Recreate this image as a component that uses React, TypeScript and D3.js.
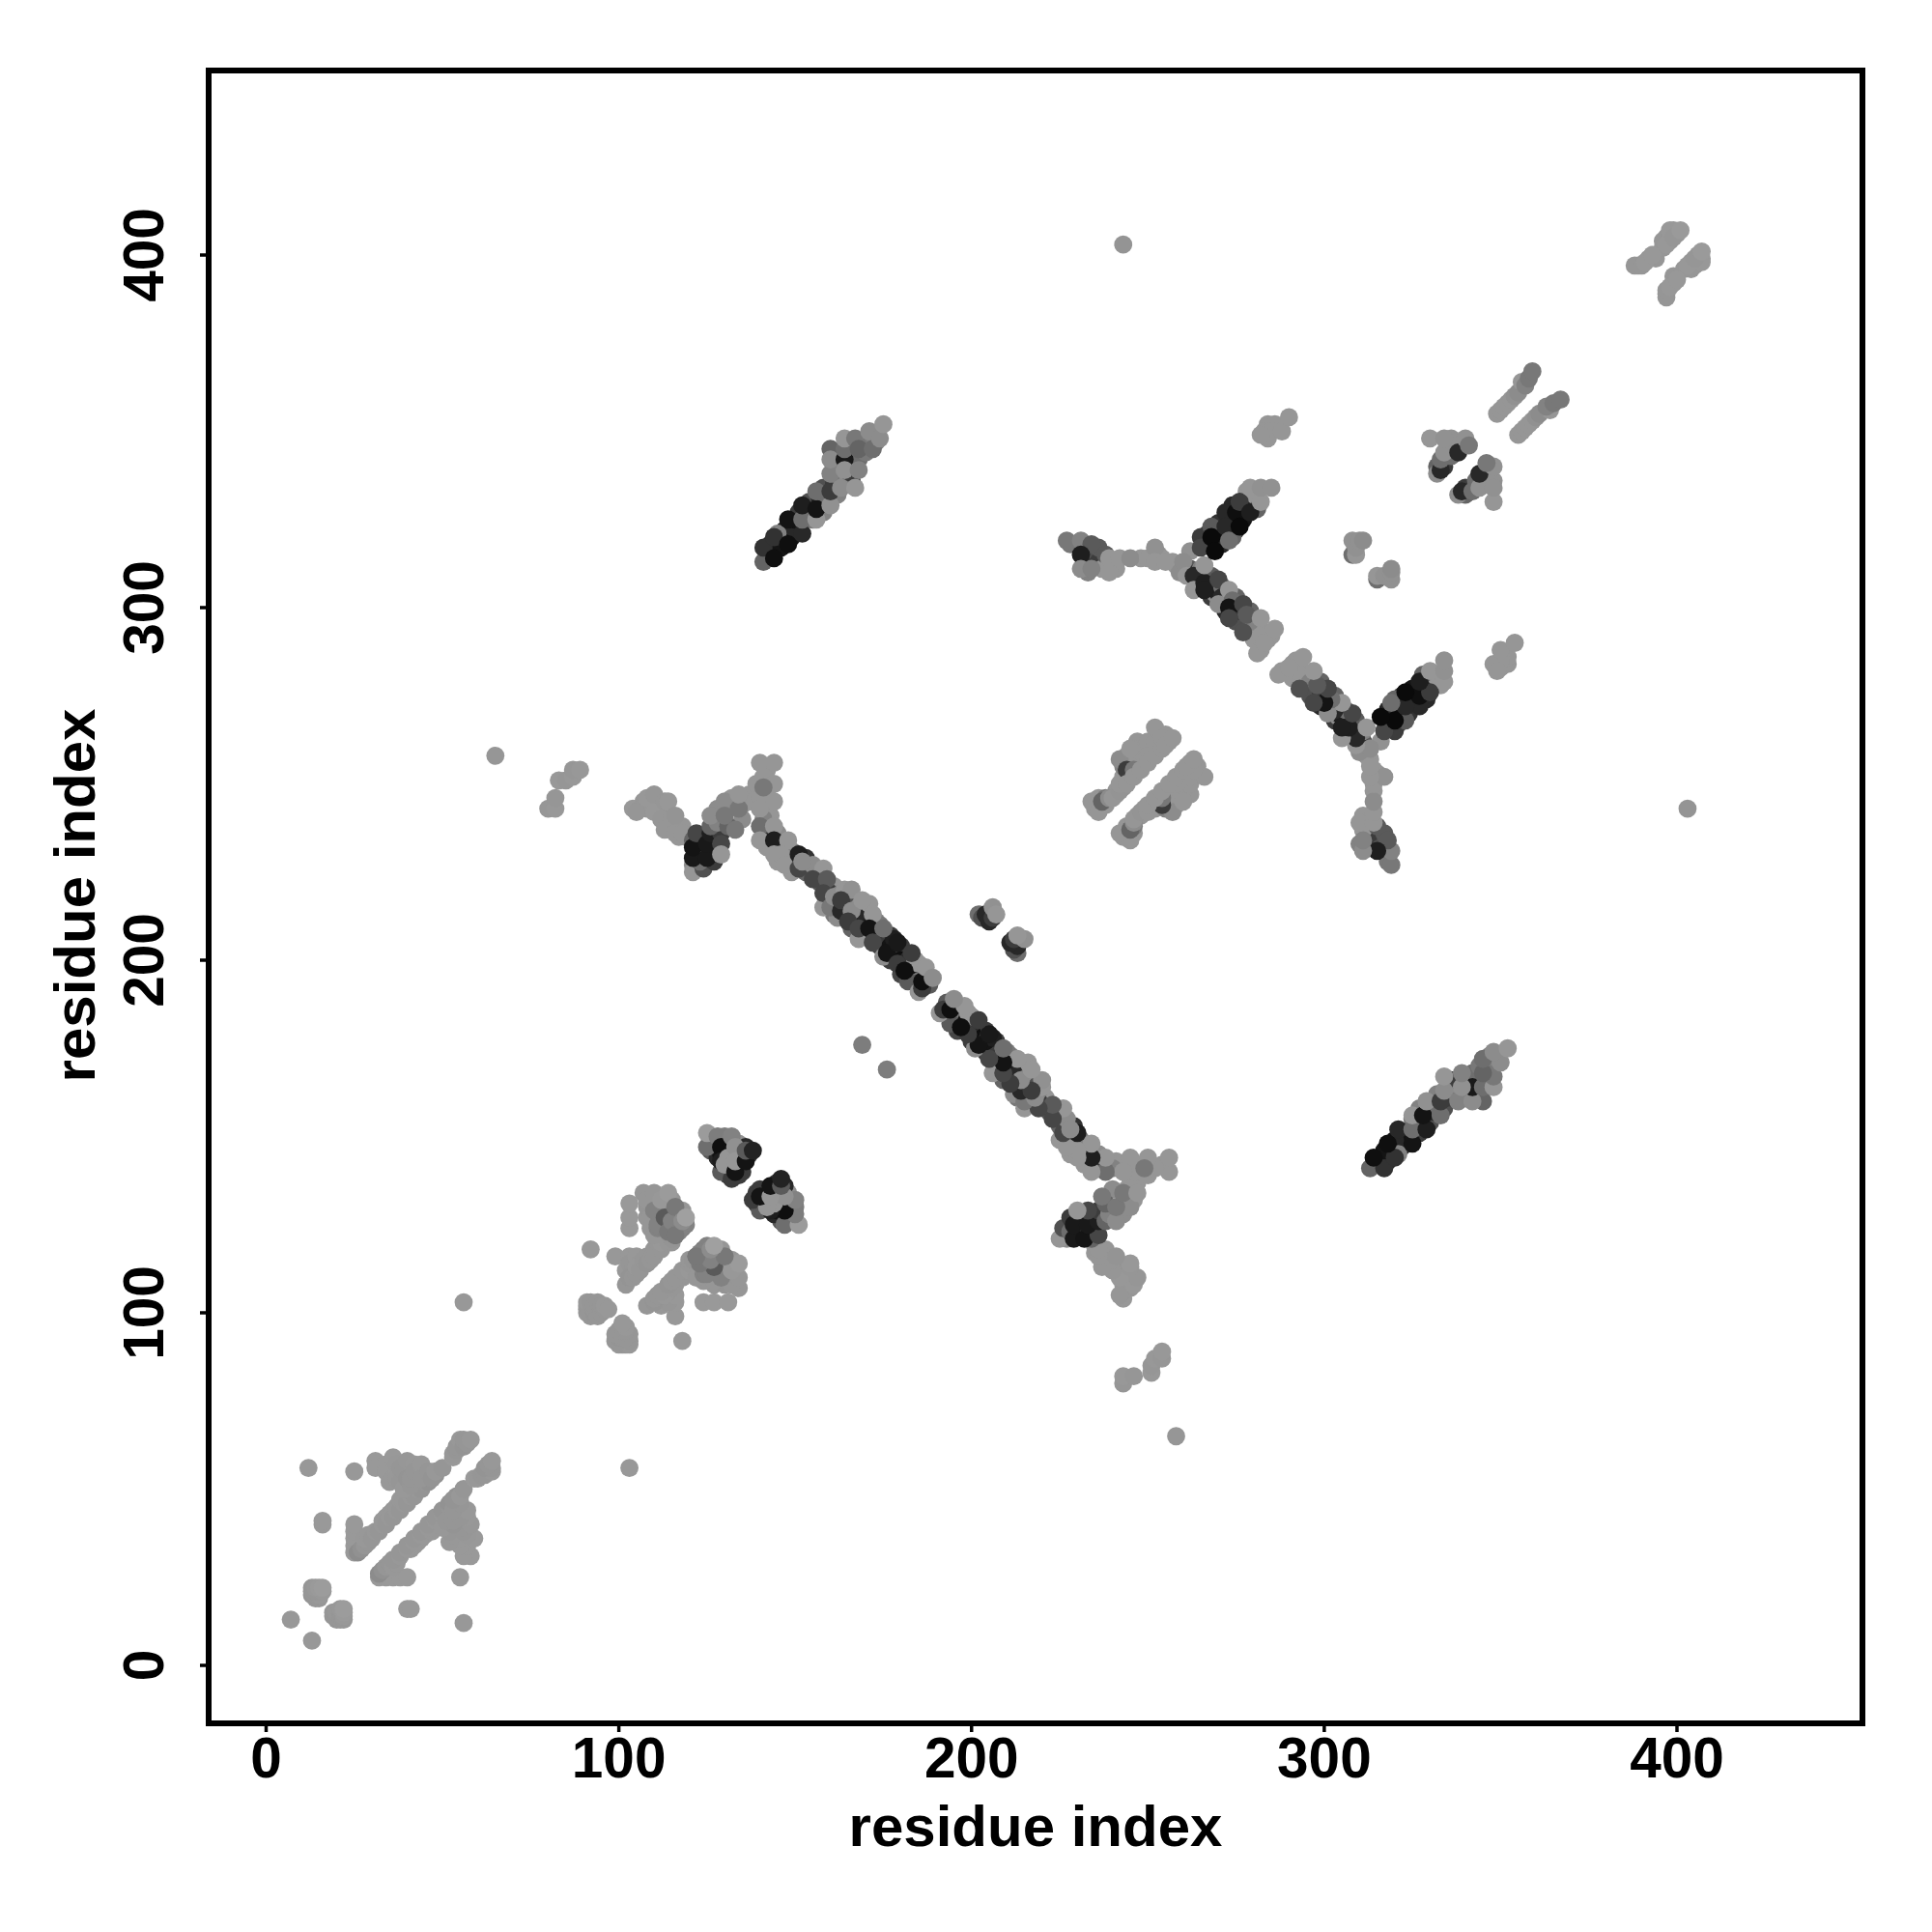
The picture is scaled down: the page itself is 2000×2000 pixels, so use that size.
import React from "react";
import * as d3 from "d3";

// Each contact is [residue i, residue j, gray level]; the map is symmetric, so (j, i) is drawn too.
type Contact = [number, number, number];

const xTicks = [0, 100, 200, 300, 400];
const yTicks = [0, 100, 200, 300, 400];
const axisLabel = "residue index";

const isolated: Contact[] = [
  [7, 13, 152], [12, 56, 152], [25, 55, 152], [56, 103, 152], [65, 258, 150], [92, 118, 152],
  [169, 176, 125], [243, 403, 148],
];

const domainA: Contact[] = [
  [16, 40, 153], [16, 41, 153],
  [13, 20, 148], [14, 19, 150], [15, 19, 150], [14, 20, 150], [15, 20, 152], [13, 21, 150], [14, 21, 150], [15, 21, 150], [16, 21, 152], [13, 22, 150], [14, 22, 152], [15, 22, 154], [16, 22, 156],
  [25, 32, 153], [25, 34, 153], [25, 36, 153], [25, 38, 153], [25, 40, 153],
  [26, 32, 140], [27, 33, 145], [28, 34, 150], [29, 35, 150], [28, 36, 152], [29, 37, 152], [30, 36, 150],
  [33, 41, 152], [34, 42, 152], [35, 43, 152], [36, 44, 152], [37, 45, 152],
  [31, 38, 152], [32, 38, 150], [33, 40, 152], [34, 40, 150], [35, 42, 152], [36, 42, 150], [37, 44, 152], [38, 44, 150],
  [38, 47, 152], [40, 49, 152], [42, 51, 152], [39, 46, 152], [40, 46, 150], [41, 48, 152], [42, 48, 150], [43, 50, 152], [44, 50, 148], [45, 52, 150], [46, 52, 146], [47, 54, 150], [48, 54, 146],
  [31, 58, 153], [31, 56, 153], [34, 57, 153], [34, 55, 153], [36, 59, 153], [36, 55, 153], [36, 53, 153], [35, 52, 152], [37, 57, 152], [37, 53, 152], [38, 56, 150], [38, 52, 150], [39, 55, 150], [39, 50, 152], [40, 58, 151], [40, 53, 148], [41, 51, 150], [41, 53, 150], [42, 57, 152], [42, 55, 150], [44, 57, 152], [44, 53, 150], [46, 55, 150], [47, 53, 148], [48, 55, 152], [50, 56, 150],
  [53, 59, 153], [53, 60, 152], [54, 61, 150], [54, 62, 150], [55, 64, 152], [56, 62, 148], [56, 64, 150], [57, 63, 150], [58, 64, 152],
];

const domainC: Contact[] = [
  [91, 100, 152], [91, 101, 150], [91, 102, 150], [91, 103, 152], [92, 99, 150], [92, 100, 150], [92, 103, 150], [93, 100, 148], [93, 101, 150], [93, 102, 150], [94, 99, 150], [94, 103, 150], [95, 100, 150], [95, 102, 150], [96, 101, 150], [96, 102, 152], [97, 101, 152],
  [99, 116, 152], [103, 116, 152], [102, 112, 152], [103, 114, 150], [105, 116, 152],
  [104, 112, 150], [106, 114, 150], [108, 116, 150], [110, 118, 150], [111, 120, 150], [113, 121, 150],
  [102, 108, 150], [103, 110, 148], [104, 110, 150], [105, 111, 150], [105, 113, 152], [106, 112, 150], [107, 115, 150], [108, 114, 148], [109, 115, 150], [110, 116, 150], [112, 118, 150], [112, 120, 152], [112, 122, 152], [114, 120, 150], [115, 120, 150], [115, 121, 148], [116, 122, 110], [118, 124, 120],
  [103, 124, 153], [103, 127, 153], [103, 131, 153],
  [108, 127, 150], [109, 124, 150], [110, 122, 150], [111, 124, 130], [113, 124, 130], [114, 125, 120], [112, 125, 110], [117, 125, 100], [116, 128, 120], [117, 127, 130], [113, 130, 140], [115, 132, 150], [118, 129, 150], [119, 125, 130],
  [107, 134, 150], [108, 130, 148], [108, 132, 150], [109, 127, 150], [110, 134, 150], [110, 129, 130], [111, 125, 130], [112, 132, 152], [113, 127, 90], [114, 134, 155], [114, 123, 120], [115, 126, 130], [116, 130, 120], [117, 123, 130], [116, 122, 120], [118, 126, 140], [119, 127, 160],
];

const domainB: Contact[] = [
  [127, 146, 80], [126, 146, 90], [126, 150, 130], [127, 149, 125], [130, 150, 125], [130, 148, 60], [128, 144, 40], [129, 145, 20], [130, 141, 60], [131, 146, 20], [131, 141, 20], [131, 139, 60], [132, 143, 20], [134, 145, 30], [134, 141, 20], [135, 144, 70], [134, 148, 145], [135, 140, 60], [137, 145, 60], [136, 147, 40], [134, 139, 60],
  [125, 147, 110], [125, 151, 155], [128, 150, 125], [129, 140, 90], [129, 147, 15], [129, 143, 30], [132, 138, 60], [131, 144, 150], [130, 142, 150], [133, 140, 20], [132, 150, 130], [133, 147, 145], [133, 143, 150], [136, 143, 20], [136, 146, 90], [138, 146, 35],
];

const branchLeft: Contact[] = [
  [80, 243, 150], [82, 243, 152], [82, 246, 150], [83, 251, 152], [85, 251, 150], [87, 252, 152], [87, 254, 150], [89, 254, 152],
  [107, 245, 150], [108, 243, 150], [111, 244, 150], [112, 243, 148], [114, 238, 150], [115, 237, 150], [117, 235, 150], [118, 238, 150], [119, 235, 150],
  [104, 243, 152], [106, 243, 150], [105, 242, 150], [108, 246, 152], [110, 247, 150], [110, 242, 152], [112, 240, 150], [113, 237, 150], [113, 245, 150], [114, 245, 152], [115, 240, 150], [116, 241, 148], [116, 236, 150], [118, 236, 150],
  [121, 227, 140], [121, 225, 150], [121, 234, 100], [124, 226, 80], [127, 228, 60], [123, 228, 110], [123, 231, 90], [122, 231, 150], [123, 234, 90], [127, 231, 130], [127, 234, 60],
  [121, 229, 25], [121, 232, 20], [122, 236, 70], [125, 229, 25], [125, 233, 25], [126, 236, 30], [129, 236, 60], [129, 233, 70], [129, 230, 150],
  [135, 240, 140], [126, 238, 100], [128, 239, 130], [131, 238, 100], [131, 243, 130], [128, 243, 140], [132, 246, 150], [135, 244, 150], [137, 247, 150], [138, 245, 150],
  [133, 237, 120], [126, 241, 140], [130, 245, 140], [130, 241, 120], [134, 243, 120], [134, 247, 150],
];

const stripeLongFill: Contact[] = [
  [142, 254, 150], [142, 247, 150], [142, 244, 150], [143, 241, 150], [141, 240, 130], [142, 236, 60], [143, 232, 40], [142, 232, 150], [145, 236, 140], [146, 233, 80], [145, 228, 150], [149, 228, 80], [148, 230, 100], [149, 225, 150],
  [150, 228, 100], [149, 231, 130], [153, 229, 50], [153, 225, 100], [156, 225, 120], [157, 222, 90], [157, 224, 100], [160, 221, 110], [161, 221, 150], [160, 219, 60], [159, 217, 70], [161, 213, 120], [162, 216, 50], [162, 212, 140], [163, 219, 120], [165, 217, 80], [165, 214, 50], [166, 209, 100], [167, 212, 40], [168, 215, 140], [169, 214, 120], [170, 212, 40], [170, 209, 30], [170, 207, 60], [171, 216, 150], [173, 211, 130], [173, 207, 60], [174, 206, 30], [174, 204, 60], [174, 210, 120], [177, 207, 60], [177, 204, 20], [177, 200, 60], [178, 206, 30], [178, 202, 30], [180, 204, 60], [180, 200, 15], [180, 196, 70], [182, 200, 40], [183, 198, 20], [183, 195, 40], [184, 197, 20], [184, 200, 140], [185, 199, 150], [185, 194, 120], [188, 193, 90],
];

const stripeLong: Contact[] = [
  [139, 250, 150], [140, 256, 150], [144, 256, 150], [141, 252, 150], [144, 250, 150], [140, 246, 150], [144, 245, 150], [140, 243, 150], [141, 249, 120],
  [140, 238, 110], [140, 234, 150], [144, 238, 150], [144, 234, 30], [144, 230, 150], [148, 234, 150], [146, 230, 150], [147, 227, 150], [151, 230, 30], [151, 226, 70], [155, 227, 140], [152, 228, 140], [158, 226, 150],
  [155, 223, 70], [159, 223, 90], [158, 215, 150], [158, 219, 70], [160, 215, 120], [161, 218, 140], [164, 220, 150], [166, 220, 145], [163, 214, 40], [163, 217, 60], [166, 214, 140], [169, 217, 150],
  [168, 206, 150], [165, 211, 60], [168, 209, 70], [172, 213, 150], [171, 209, 20], [172, 205, 70], [175, 201, 140], [175, 209, 110], [176, 202, 20], [179, 199, 60], [179, 205, 25], [182, 194, 90], [183, 202, 60], [181, 197, 15],
  [185, 191, 150], [186, 192, 60], [186, 194, 15], [187, 198, 150], [189, 195, 140],
];

const islets: Contact[] = [
  [202, 213, 110], [203, 212, 80], [204, 213, 40], [205, 211, 40], [206, 212, 60], [206, 215, 145], [207, 213, 150],
  [308, 315, 110], [309, 315, 150], [309, 317, 145], [308, 319, 145], [310, 319, 145], [311, 319, 140],
];

const stripeD: Contact[] = [
  [142, 315, 60], [143, 316, 30], [143, 318, 40], [146, 317, 20], [146, 320, 30], [147, 322, 40], [149, 320, 20], [150, 322, 40], [150, 325, 20], [151, 327, 60], [153, 327, 40], [154, 327, 30], [154, 330, 80], [155, 325, 120], [157, 331, 40], [158, 331, 110], [158, 334, 80], [158, 327, 130], [161, 335, 60], [162, 332, 130], [162, 336, 120], [161, 340, 120], [162, 344, 120], [162, 340, 40], [165, 337, 140], [166, 336, 60], [166, 344, 100], [166, 341, 40], [168, 342, 110], [169, 347, 120], [170, 344, 120], [170, 347, 120], [172, 349, 130], [173, 347, 130],
  [141, 313, 100], [141, 317, 50], [144, 314, 15], [145, 321, 130], [144, 320, 50], [148, 318, 15], [148, 325, 20], [152, 321, 40], [152, 325, 110], [156, 325, 150], [152, 329, 30], [156, 328, 20], [160, 329, 145], [156, 333, 110], [160, 333, 60], [163, 334, 140], [167, 334, 150],
  [160, 338, 130], [160, 345, 100], [160, 342, 140], [164, 342, 25], [164, 339, 145], [168, 339, 130], [164, 345, 110], [164, 348, 150], [167, 348, 120], [168, 345, 100], [171, 350, 140], [172, 345, 110], [174, 348, 140], [175, 352, 150],
];

const domainE: Contact[] = [
  [235, 243, 150], [236, 246, 150], [238, 244, 150], [238, 246, 120], [241, 247, 150], [241, 248, 150], [243, 249, 150], [243, 252, 150], [243, 255, 130], [245, 255, 110], [244, 258, 150], [246, 258, 150], [247, 257, 150], [247, 262, 150], [248, 260, 150], [249, 256, 150], [249, 258, 150], [250, 262, 150], [253, 260, 150], [255, 264, 150], [256, 262, 150],
  [234, 245, 150], [236, 242, 150], [237, 245, 100], [239, 246, 140], [240, 246, 150], [242, 248, 148], [242, 250, 150], [242, 257, 140], [244, 254, 60], [244, 250, 150], [245, 260, 150], [246, 254, 120], [246, 252, 150], [248, 254, 150], [250, 258, 150], [250, 256, 150],
  [252, 258, 150], [252, 262, 150], [252, 266, 150], [254, 260, 150], [254, 263, 150], [255, 261, 150], [257, 263, 150],
];

const branchRightFill: Contact[] = [
  [228, 318, 120], [233, 317, 60], [232, 313, 60], [233, 313, 60], [235, 316, 80], [236, 313, 60], [236, 317, 90], [233, 310, 130], [237, 311, 150], [240, 313, 150], [241, 311, 150], [248, 314, 150], [253, 315, 145], [254, 314, 150], [257, 313, 150], [258, 312, 150], [259, 310, 140],
  [262, 311, 90], [264, 310, 50], [264, 307, 60], [265, 311, 130], [267, 308, 40], [268, 305, 40], [268, 309, 90], [268, 303, 60], [269, 304, 140], [270, 304, 30], [271, 306, 110], [271, 303, 40], [272, 301, 60], [272, 299, 40], [275, 303, 100], [275, 299, 40], [275, 296, 80], [276, 299, 60], [279, 299, 100], [279, 296, 80], [279, 294, 90], [280, 296, 120], [281, 294, 130], [280, 291, 150], [283, 293, 150], [284, 291, 150], [282, 288, 150], [285, 292, 150],
  [267, 318, 30], [266, 318, 40], [267, 321, 70], [270, 319, 15], [270, 322, 15], [270, 324, 50], [271, 318, 40], [272, 321, 15], [274, 324, 20], [274, 329, 40], [275, 322, 60], [274, 320, 100], [277, 325, 20], [277, 328, 40], [278, 329, 30], [278, 333, 150], [280, 332, 150], [281, 328, 100],
  [284, 352, 150], [283, 350, 150], [284, 348, 150], [286, 352, 150],
];

const branchRight: Contact[] = [
  [227, 319, 120], [231, 319, 130], [234, 318, 90], [231, 315, 30], [231, 311, 140], [234, 311, 130], [238, 315, 90], [239, 310, 150], [239, 314, 150], [242, 314, 150], [245, 314, 140], [250, 314, 150], [252, 317, 145], [252, 313, 150], [255, 313, 150],
  [262, 316, 145], [260, 313, 140], [261, 309, 150], [263, 309, 40], [263, 305, 150], [266, 307, 30], [266, 305, 30], [266, 312, 150], [270, 308, 70], [270, 301, 140], [273, 305, 150], [274, 302, 110], [273, 300, 20], [273, 297, 70], [277, 301, 70], [278, 298, 90], [277, 293, 80],
  [282, 297, 150], [282, 292, 150], [281, 287, 150], [283, 290, 150], [286, 294, 150],
  [265, 320, 60], [265, 317, 70], [268, 323, 90], [268, 320, 10], [269, 316, 10], [272, 327, 40], [272, 323, 40], [273, 319, 110], [275, 327, 15], [276, 330, 60], [276, 323, 10], [279, 327, 30],
  [279, 334, 150], [282, 330, 150], [282, 334, 145], [285, 334, 145],
  [285, 350, 150], [282, 349, 150], [288, 350, 150], [290, 354, 150],
];

const domainG: Contact[] = [
  [332, 340, 100], [334, 340, 60], [336, 343, 110], [337, 346, 40], [339, 346, 100], [335, 346, 145], [336, 348, 145],
  [330, 348, 150], [332, 338, 140], [333, 339, 40], [333, 342, 110], [334, 344, 145], [334, 348, 145], [338, 344, 40], [340, 348, 145], [341, 346, 120],
  [349, 355, 150], [350, 356, 150], [351, 357, 150], [352, 358, 150], [353, 359, 150], [354, 360, 145], [355, 361, 140], [356, 364, 150], [357, 363, 130], [358, 365, 120], [359, 367, 120],
  [389, 397, 150], [392, 399, 150], [394, 399, 150], [396, 402, 150], [396, 404, 150], [397, 405, 150], [398, 404, 150], [398, 405, 150], [399, 407, 150], [400, 406, 150],
  [388, 397, 150], [390, 397, 150], [391, 398, 152], [393, 400, 152], [397, 403, 152], [398, 407, 152], [399, 405, 150], [401, 407, 154],
];

const contacts: Contact[] = [
  ...isolated, ...domainA, ...domainC, ...domainB, ...branchLeft, ...stripeLongFill, ...stripeLong, ...islets, ...stripeD, ...domainE, ...branchRightFill, ...branchRight, ...domainG,
];

const font = "'Liberation Sans', Arial, sans-serif";
const box = { left: 216, right: 1928, top: 73, bottom: 1784 };

export default function App() {
  const x = d3.scaleLinear().domain([0, 400]).range([275.5, 1736]);
  const y = d3.scaleLinear().domain([0, 400]).range([1724, 264]);
  const shade = (g: number) => d3.rgb(g, g, g).formatHex();
  const marks = contacts.flatMap(([i, j, g]) => [[i, j, g], [j, i, g]]);
  return (
    <svg
      width={2000}
      height={2000}
      viewBox="0 0 2000 2000"
      style={{ position: "absolute", left: 0, top: 0, background: "#fff" }}
      fontFamily={font}
      fontWeight="bold"
    >
      {marks.map(([a, b, g], k) => (
        <circle key={k} cx={x(a)} cy={y(b)} r={9.4} fill={shade(g)} />
      ))}
      <rect
        x={box.left}
        y={box.top}
        width={box.right - box.left}
        height={box.bottom - box.top}
        fill="none"
        stroke="#000"
        strokeWidth={6}
      />
      {xTicks.map((t) => (
        <g key={t}>
          <line x1={x(t)} x2={x(t)} y1={box.bottom} y2={box.bottom + 9} stroke="#000" strokeWidth={3.5} />
          <text x={x(t)} y={1840} textAnchor="middle" fontSize={58.5}>{t}</text>
        </g>
      ))}
      {yTicks.map((t) => (
        <g key={t}>
          <line x1={box.left} x2={box.left - 9} y1={y(t)} y2={y(t)} stroke="#000" strokeWidth={3.5} />
          <text transform={`translate(169,${y(t)}) rotate(-90)`} textAnchor="middle" fontSize={58.5}>{t}</text>
        </g>
      ))}
      <text x={1072} y={1911} textAnchor="middle" fontSize={60}>{axisLabel}</text>
      <text transform="translate(98,927) rotate(-90)" textAnchor="middle" fontSize={60}>{axisLabel}</text>
    </svg>
  );
}
